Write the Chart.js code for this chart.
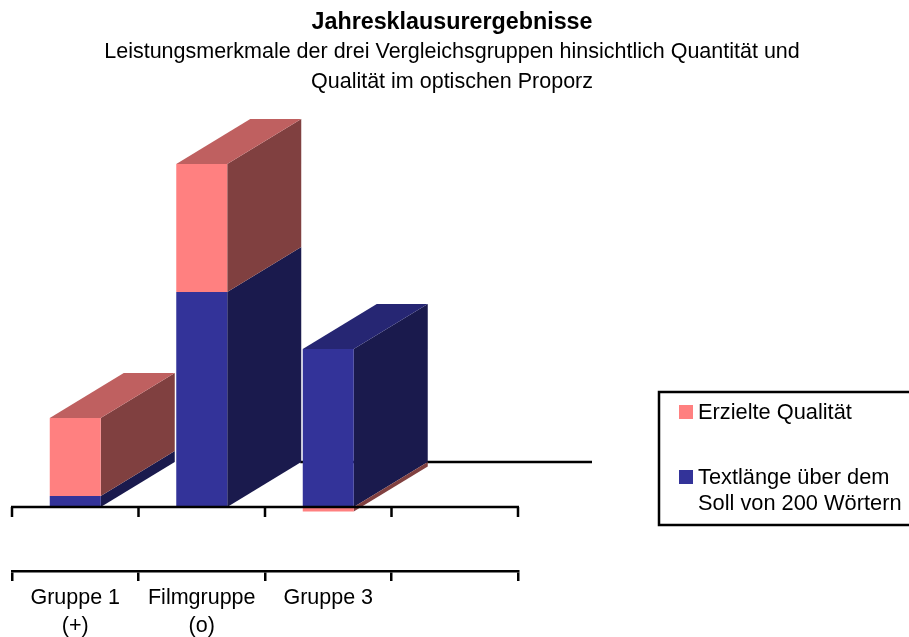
<!DOCTYPE html>
<html><head><meta charset="utf-8">
<style>html,body{margin:0;padding:0;background:#fff}canvas{display:block}</style>
<script src="https://cdn.jsdelivr.net/npm/chart.js@4"></script>
</head><body><canvas id="c" width="909" height="637"></canvas>
<script>
const titleText = 'Jahresklausurergebnisse';
const subtitleLines = ['Leistungsmerkmale der drei Vergleichsgruppen hinsichtlich Quantität und', 'Qualität im optischen Proporz'];
const categories = [['Gruppe 1', '(+)'], ['Filmgruppe', '(o)'], 'Gruppe 3', ''];
const textLength = [1.1, 21.5, 15.8, null];
const quality = [7.8, 12.8, -0.45, null];
const seriesQuality = 'Erzielte Qualität';
const seriesLength = 'Textlänge über dem Soll von 200 Wörtern';
const legendLines = [['Erzielte Qualität'], ['Textlänge über dem', 'Soll von 200 Wörtern']];

const FONT = '"Liberation Sans", Arial, sans-serif';
const FS = 21.5;
const FS_LEGEND = 21.8;
const FS_TITLE = 23.3;
const AXIS_W = 2.5;
const DX = 74, DY = -45;
const PINK = {front:'#FF8080', top:'#BF6060', side:'#804040'};
const BLUE = {front:'#333399', top:'#262673', side:'#1A1A4D'};

function poly(ctx, pts, fill){
  ctx.fillStyle = fill; ctx.beginPath();
  pts.forEach((p,i)=> i?ctx.lineTo(p[0],p[1]):ctx.moveTo(p[0],p[1]));
  ctx.closePath(); ctx.fill();
}
const depth3d = {
  id:'depth3d',
  beforeDatasetsDraw(chart){
    const {ctx, scales:{x,y}} = chart;
    const y0 = y.getPixelForValue(0);
    ctx.save();
    ctx.strokeStyle='#000'; ctx.lineWidth=AXIS_W;
    const film = chart.getDatasetMeta(0).data[1];
    ctx.beginPath(); ctx.moveTo(film.x+film.width/2+DX-1,y0+DY); ctx.lineTo(x.right+DX,y0+DY); ctx.stroke();
    const styles = chart.data.datasets.map(d=>d.faces);
    categories.forEach((_,i)=>{
      let topIdx=-1, topY=Infinity;
      chart.data.datasets.forEach((d,k)=>{
        const el = chart.getDatasetMeta(k).data[i];
        if(d.data[i]==null) return;
        const a=Math.min(el.y,el.base), b=Math.max(el.y,el.base), r=el.x+el.width/2;
        poly(ctx,[[r,a],[r+DX,a+DY],[r+DX,b+DY],[r,b]],styles[k].side);
        if(a<topY){topY=a;topIdx=k;}
      });
      if(topIdx>=0){
        const el = chart.getDatasetMeta(topIdx).data[i];
        const r=el.x+el.width/2, l=el.x-el.width/2;
        poly(ctx,[[l,topY],[l+DX,topY+DY],[r+DX,topY+DY],[r,topY]],styles[topIdx].top);
      }
    });
    ctx.restore();
  },
  afterDatasetsDraw(chart){
    const {ctx, scales:{x,y}} = chart;
    const y0 = y.getPixelForValue(0);
    ctx.save();
    ctx.strokeStyle='#000'; ctx.lineWidth=AXIS_W;
    ctx.beginPath(); ctx.moveTo(x.left-1,y0); ctx.lineTo(x.right+1,y0);
    const n = categories.length;
    for(let i=0;i<=n;i++){ const px = x.left+(x.right-x.left)*i/n; ctx.moveTo(px,y0); ctx.lineTo(px,y0+10); }
    ctx.stroke();
    ctx.restore();
  }
};
const boxLegend = {
  id:'boxLegend',
  afterDraw(chart){
    const ctx = chart.ctx;
    ctx.save();
    ctx.strokeStyle='#000'; ctx.lineWidth=AXIS_W;
    ctx.strokeRect(659,392,260,133);
    ctx.font = FS_LEGEND+'px '+FONT; ctx.textBaseline='alphabetic'; ctx.textAlign='left';
    const rows=[{c:PINK.front,y:405,lines:legendLines[0]},{c:BLUE.front,y:470,lines:legendLines[1]}];
    rows.forEach(r=>{
      ctx.fillStyle=r.c; ctx.fillRect(679,r.y,14,14);
      ctx.fillStyle='#000';
      r.lines.forEach((t,j)=>ctx.fillText(t,698,r.y+14+j*26));
    });
    ctx.restore();
  }
};
new Chart(document.getElementById('c'),{
  type:'bar',
  data:{labels:categories,datasets:[
    {label:seriesLength,data:textLength,backgroundColor:BLUE.front,faces:BLUE,barPercentage:0.403,categoryPercentage:1},
    {label:seriesQuality,data:quality,backgroundColor:PINK.front,faces:PINK,barPercentage:0.403,categoryPercentage:1}
  ]},
  options:{
    responsive:false,animation:false,
    layout:{padding:{left:0,right:5,top:0,bottom:0}},
    plugins:{
      legend:{display:false},tooltip:{enabled:false},
      title:{display:true,text:titleText,color:'#000',font:{family:FONT,size:FS_TITLE,weight:'bold',lineHeight:28/FS_TITLE},padding:{top:9,bottom:0}},
      subtitle:{display:true,text:subtitleLines,color:'#000',font:{family:FONT,size:FS,weight:'normal',lineHeight:30/FS},padding:{top:0,bottom:10}}
    },
    scales:{
      x:{stacked:true,grid:{display:true,drawOnChartArea:false,drawTicks:true,tickLength:10,color:'#000',lineWidth:AXIS_W,offset:true},
         border:{display:true,color:'#000',width:AXIS_W},
         ticks:{color:'#000',font:{family:FONT,size:FS,lineHeight:28/FS},autoSkip:false,maxRotation:0,padding:3},
         afterFit(s){s.height=66;}},
      y:{stacked:true,min:-6.4,max:40,position:'left',grid:{display:false},border:{display:false},ticks:{display:false},afterFit(s){s.width=12;}},
      yR:{position:'right',grid:{display:false},border:{display:false},ticks:{display:false},afterFit(s){s.width=386;}}
    }
  },
  plugins:[depth3d,boxLegend]
});
</script></body></html>
